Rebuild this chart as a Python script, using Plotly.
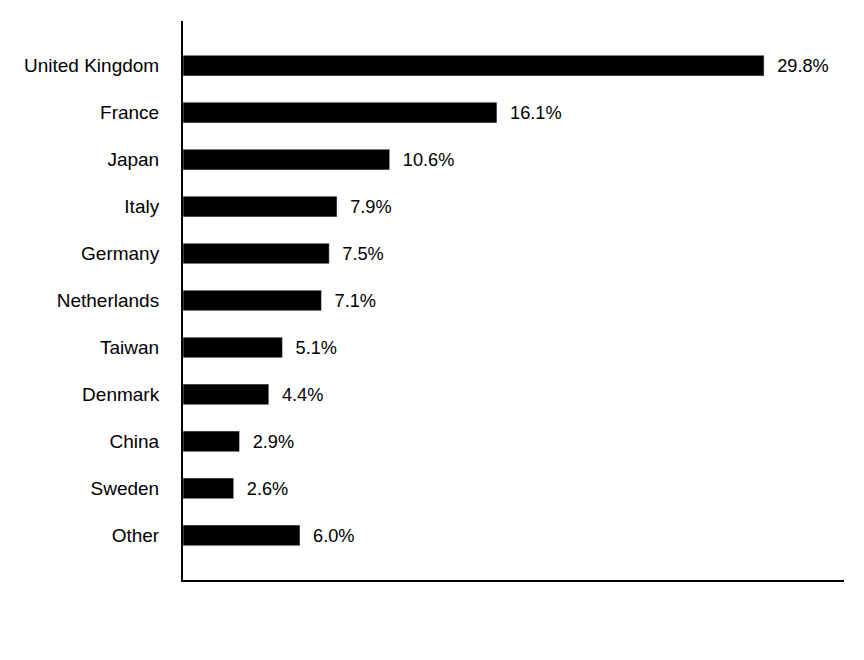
import plotly.graph_objects as go

countries = ["United Kingdom", "France", "Japan", "Italy", "Germany", "Netherlands",
             "Taiwan", "Denmark", "China", "Sweden", "Other"]
shares = [29.8, 16.1, 10.6, 7.9, 7.5, 7.1, 5.1, 4.4, 2.9, 2.6, 6.0]
labels = [f"  {v:.1f}%" for v in shares]

fig = go.Figure(go.Bar(
    x=shares, y=countries, orientation="h",
    marker_color="black", width=0.44,
    text=labels, textposition="outside", cliponaxis=False,
    textfont=dict(size=22, color="black"),
))

fig.update_layout(
    width=864, height=660,
    margin=dict(l=175, r=28, t=13, b=88),
    plot_bgcolor="white", paper_bgcolor="white",
    font=dict(family="Liberation Sans, Arial", color="black"),
    showlegend=False,
)
fig.update_xaxes(range=[0, 33.9], showticklabels=False, showgrid=False, zeroline=False,
                 showline=True, linecolor="black", linewidth=2, ticks="")
fig.update_yaxes(range=[10.95, -0.95], showgrid=False, zeroline=False,
                 showline=True, linecolor="black", linewidth=2, ticks="",
                 ticklabelstandoff=18, tickfont=dict(size=19))

fig.write_html("out.html")
